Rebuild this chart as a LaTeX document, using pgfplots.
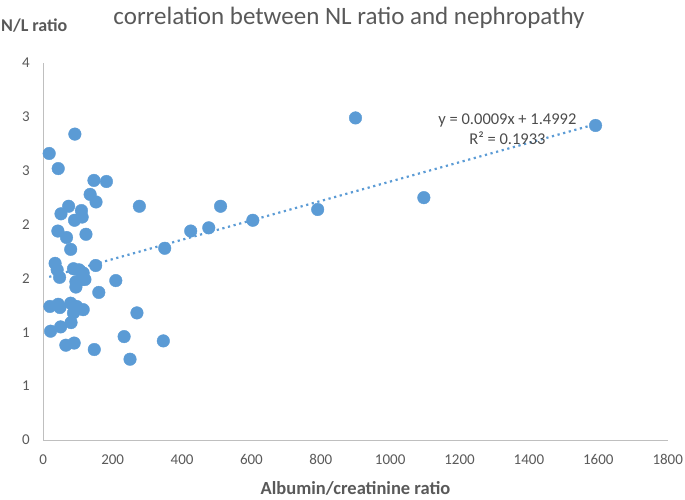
\documentclass[border=0pt]{standalone}
\usepackage{fontspec}
\setmainfont{Carlito}
\usepackage{pgfplots}
\pgfplotsset{compat=1.18}
\definecolor{ptblue}{HTML}{5B9BD5}
\definecolor{txtgray}{HTML}{595959}
\definecolor{axgray}{HTML}{BFBFBF}
\begin{document}
\begin{tikzpicture}
\useasboundingbox (-43.3pt,-59pt) rectangle (641.7pt,440pt);
\begin{axis}[
  at={(0pt,0pt)}, anchor=south west, scale only axis,
  width=624.4pt, height=377pt,
  xmin=0, xmax=1800, ymin=0, ymax=3.5,
  xtick={0,200,400,600,800,1000,1200,1400,1600,1800},
  xticklabels={0,200,400,600,800,1000,1200,1400,1600,1800},
  ytick={0,0.5,1,1.5,2,2.5,3,3.5},
  yticklabels={0,1,1,2,2,3,3,4},
  axis lines*=left,
  axis line style={axgray, line width=0.9pt, -},
  major tick length=0pt,
  tick label style={font=\fontsize{15}{18}\selectfont, text=txtgray},
  /pgf/number format/assume math mode=true,
  xticklabel style={yshift=-11pt},
  yticklabel style={xshift=-10pt},
  clip=false,
]
\addplot[only marks, mark=*, mark size=6.3pt, mark options={fill=ptblue, draw=ptblue}] coordinates {
(91,2.84) (17,2.66) (43,2.52) (146,2.41) (182,2.40) (135,2.28) (152,2.21)
(277,2.17) (73,2.17) (51,2.10) (110,2.13) (112,2.07) (90,2.04) (42,1.94)
(67,1.88) (123,1.91) (79,1.77) (350,1.78) (425,1.94) (477,1.97) (511,2.17)
(604,2.04) (791,2.14) (1097,2.25) (1592,2.92) (900,2.99)
(34,1.64) (40,1.58) (47,1.51) (87,1.59) (103,1.58) (115,1.55) (111,1.49)
(151,1.62) (94,1.47) (94,1.42) (120,1.49) (209,1.48) (160,1.37)
(19,1.24) (43,1.26) (48,1.23) (79,1.27) (96,1.24) (115,1.21) (87,1.18)
(270,1.18) (80,1.09) (50,1.05) (21,1.01) (233,0.96) (346,0.92) (65,0.88)
(89,0.90) (147,0.84) (250,0.75)
};
\addplot[ptblue, line width=2.2pt, dash pattern=on 2.2pt off 3.6pt] coordinates {(17,1.5145) (1592,2.9320)};
\node[anchor=base, font=\fontsize{16.5}{20}\selectfont, text=txtgray!85!black, inner sep=0] at (axis cs:1338,2.925) {y = 0.0009x + 1.4992};
\node[anchor=base, font=\fontsize{16.5}{20}\selectfont, text=txtgray!85!black, inner sep=0] at (axis cs:1338,2.739) {R² = 0.1933};
\end{axis}
\node[anchor=base, font=\fontsize{25}{30}\selectfont, text=txtgray, inner sep=0] at (305.7pt,415pt) {correlation between NL ratio and nephropathy};
\node[anchor=base west, font=\bfseries\fontsize{18}{22}\selectfont, text=txtgray, inner sep=0] at (-42.3pt,408.3pt) {N/L ratio};
\node[anchor=base, font=\bfseries\fontsize{18.5}{22}\selectfont, text=txtgray, inner sep=0] at (312.2pt,-54.3pt) {Albumin/creatinine ratio};
\end{tikzpicture}
\end{document}
